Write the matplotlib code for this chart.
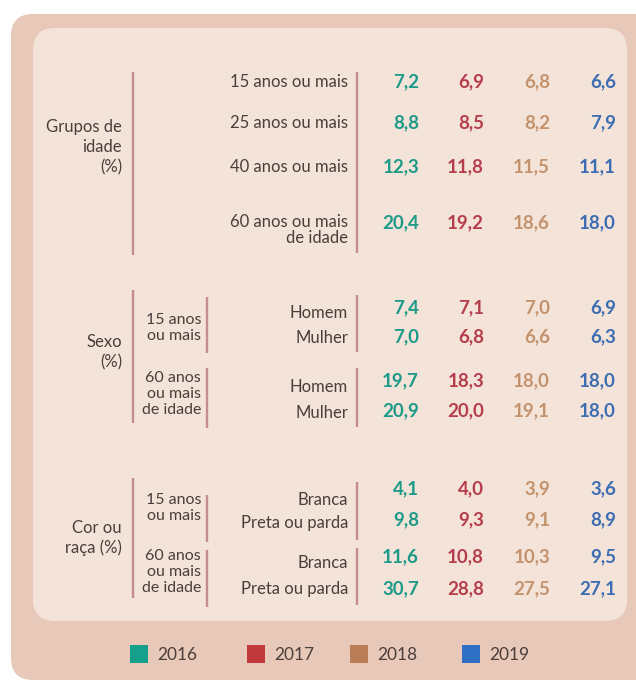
import matplotlib
matplotlib.use("Agg")
import matplotlib.pyplot as plt
from matplotlib.patches import FancyBboxPatch, Rectangle

# ---------------- data ----------------
years = ["2016", "2017", "2018", "2019"]
v2016 = [7.2, 8.8, 12.3, 20.4, 7.4, 7.0, 19.7, 20.9, 4.1, 9.8, 11.6, 30.7]
v2017 = [6.9, 8.5, 11.8, 19.2, 7.1, 6.8, 18.3, 20.0, 4.0, 9.3, 10.8, 28.8]
v2018 = [6.8, 8.2, 11.5, 18.6, 7.0, 6.6, 18.0, 19.1, 3.9, 9.1, 10.3, 27.5]
v2019 = [6.6, 7.9, 11.1, 18.0, 6.9, 6.3, 18.0, 18.0, 3.6, 8.9, 9.5, 27.1]
row_labels = ["15 anos ou mais", "25 anos ou mais", "40 anos ou mais",
              "60 anos ou mais\nde idade",
              "Homem", "Mulher", "Homem", "Mulher",
              "Branca", "Preta ou parda", "Branca", "Preta ou parda"]
group_labels = ["Grupos de\nidade\n(%)", "Sexo\n(%)", "Cor ou\nraça (%)"]
sub_labels = ["15 anos\nou mais", "60 anos\nou mais\nde idade"]

# ---------------- layout / style ----------------
year_colors = ["#1e9a88", "#b63d4c", "#c4926c", "#3d6db2"]
legend_colors = ["#14a08a", "#c1393b", "#b97d58", "#2f6fc4"]
label_color = "#4b3e3b"
line_color = "#c58d90"
outer_bg = "#e8c9b9"
inner_bg = "#f4e3d9"
FONT = ["Lato", "DejaVu Sans"]

col_x = [419, 484, 550, 616]
val_y = [82, 123, 167, 223, 308, 337, 381, 411, 489, 520, 557, 589]
lab_y = [82, 123, 167, 230, 313, 338, 387, 413, 500, 523, 563, 589]

W, H = 636, 682
fig = plt.figure(figsize=(W / 100, H / 100), dpi=100)
ax = fig.add_axes([0, 0, 1, 1])
ax.set_xlim(0, W)
ax.set_ylim(H, 0)
ax.axis("off")
fig.patch.set_facecolor("white")

ax.add_patch(FancyBboxPatch((11, 14), 660, 666,
                            boxstyle="round,pad=0,rounding_size=22",
                            fc=outer_bg, ec="none"))
ax.add_patch(FancyBboxPatch((33, 28), 594, 593,
                            boxstyle="round,pad=0,rounding_size=22",
                            fc=inner_bg, ec="none"))

# vertical separator lines
segments = [
    (133, 72, 255), (357, 72, 253),
    (133, 290, 423), (207, 297, 353), (207, 368, 428),
    (357, 295, 352), (357, 368, 427),
    (133, 478, 598), (207, 495, 542), (207, 550, 607),
    (357, 482, 540), (357, 548, 605),
]
for x, y0, y1 in segments:
    ax.plot([x, x], [y0, y1], color=line_color, lw=1.7, solid_capstyle="butt")

# group labels
for lab, y in zip(group_labels, [147, 352, 538]):
    ax.text(122, y, lab, ha="right", va="center", multialignment="right",
            fontsize=12, color=label_color, family=FONT, linespacing=1.3)

# sub labels
sub_pos = [(328, sub_labels[0]), (394, sub_labels[1]),
           (508, sub_labels[0]), (572, sub_labels[1])]
for y, lab in sub_pos:
    ax.text(201, y, lab, ha="right", va="center", multialignment="right",
            fontsize=11.5, color=label_color, family=FONT, linespacing=1.2)

# row labels
for lab, y in zip(row_labels, lab_y):
    ax.text(348, y, lab, ha="right", va="center", multialignment="right",
            fontsize=12, color=label_color, family=FONT, linespacing=1.0)

# values
for vals, cx, col in zip([v2016, v2017, v2018, v2019], col_x, year_colors):
    for v, y in zip(vals, val_y):
        ax.text(cx, y, f"{v:.1f}".replace(".", ","), ha="right", va="center",
                fontsize=13.5, fontweight="bold", color=col, family=FONT)

# legend
leg_x = [130, 247, 350, 462]
for lx, yr, c in zip(leg_x, years, legend_colors):
    ax.add_patch(Rectangle((lx, 645), 18, 18, fc=c, ec="none"))
    ax.text(lx + 27, 655, yr, ha="left", va="center", fontsize=12.5,
            color=label_color, family=FONT)

fig.savefig("out.png", dpi=100, facecolor="white")
